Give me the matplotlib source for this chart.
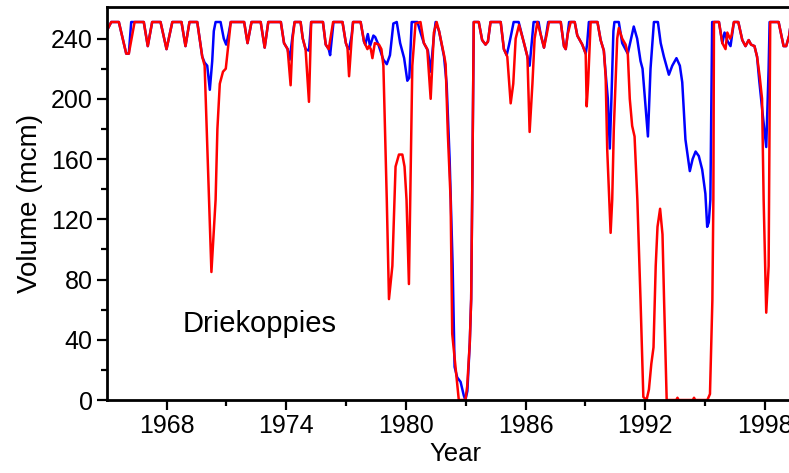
import matplotlib
matplotlib.use("Agg")
import matplotlib.pyplot as plt

plt.rcParams['font.family'] = ['Liberation Sans', 'DejaVu Sans']

# Driekoppies dam volume (mcm)
red_year = [1965.00, 1965.23, 1965.61, 1965.98, 1966.11, 1966.40, 1966.86, 1967.06, 1967.28, 1967.70,
            1968.00, 1968.29, 1968.75, 1968.95, 1969.15, 1969.54, 1969.79, 1969.91, 1970.25, 1970.46,
            1970.55, 1970.67, 1970.83, 1970.97, 1971.09, 1971.22, 1971.89, 1972.06, 1972.26, 1972.72,
            1972.92, 1973.10, 1973.73, 1973.89, 1974.07, 1974.22, 1974.32, 1974.42, 1974.72, 1974.83,
            1974.97, 1975.14, 1975.25, 1975.84, 1975.98, 1976.13, 1976.35, 1976.82, 1976.99, 1977.07,
            1977.15, 1977.28, 1977.35, 1977.73, 1977.90, 1978.07, 1978.15, 1978.24, 1978.32, 1978.44,
            1978.65, 1978.77, 1978.87, 1979.04, 1979.15, 1979.32, 1979.48, 1979.65, 1979.82, 1979.93,
            1980.03, 1980.15, 1980.32, 1980.48, 1980.73, 1980.90, 1981.07, 1981.24, 1981.40, 1981.54,
            1981.66, 1981.91, 1981.99, 1982.10, 1982.24, 1982.32, 1982.57, 1982.65, 1982.98, 1983.07,
            1983.20, 1983.27, 1983.32, 1983.40, 1983.65, 1983.82, 1983.99, 1984.11, 1984.24, 1984.75,
            1984.91, 1985.08, 1985.25, 1985.38, 1985.50, 1985.67, 1985.92, 1986.09, 1986.20, 1986.34,
            1986.45, 1986.59, 1986.75, 1986.92, 1987.06, 1987.17, 1987.76, 1987.92, 1988.01, 1988.11,
            1988.26, 1988.46, 1988.59, 1988.84, 1989.01, 1989.06, 1989.13, 1989.26, 1989.60, 1989.76,
            1989.92, 1990.01, 1990.09, 1990.26, 1990.34, 1990.42, 1990.59, 1990.67, 1990.84, 1991.01,
            1991.12, 1991.22, 1991.34, 1991.46, 1991.60, 1991.76, 1991.90, 1992.06, 1992.18, 1992.30,
            1992.41, 1992.52, 1992.61, 1992.74, 1992.86, 1992.94, 1993.07, 1993.55, 1993.61, 1993.67,
            1994.38, 1994.44, 1994.50, 1995.11, 1995.24, 1995.36, 1995.41, 1995.44, 1995.69, 1995.86,
            1996.02, 1996.11, 1996.24, 1996.32, 1996.44, 1996.66, 1996.86, 1997.02, 1997.18, 1997.30,
            1997.47, 1997.60, 1997.73, 1997.85, 1997.93, 1998.06, 1998.18, 1998.26, 1998.68, 1998.93,
            1999.06, 1999.21, 1999.30]
red_vol = [245, 251, 251, 230, 230, 251, 251, 235, 251, 251,
           233, 251, 251, 235, 251, 251, 228, 222, 85, 133,
           180, 210, 218, 220, 235, 251, 251, 237, 251, 251,
           234, 251, 251, 237, 233, 209, 240, 251, 251, 240,
           233, 198, 251, 251, 236, 233, 251, 251, 237, 234,
           215, 240, 251, 251, 238, 233, 235, 233, 227, 237,
           236, 233, 222, 133, 67, 89, 155, 163, 163, 155,
           133, 77, 222, 250, 251, 237, 233, 200, 244, 251,
           245, 229, 223, 177, 133, 44, 11, 0, 0, 9,
           38, 67, 133, 251, 251, 239, 236, 238, 251, 251,
           233, 228, 197, 210, 240, 249, 237, 228, 178, 210,
           240, 251, 243, 234, 243, 251, 251, 235, 233, 243,
           251, 251, 242, 236, 230, 195, 210, 251, 251, 239,
           232, 215, 166, 111, 133, 180, 240, 247, 240, 236,
           230, 200, 182, 175, 133, 66, 2, 0, 7, 24,
           35, 89, 115, 127, 110, 66, 0, 0, 1.5, 0,
           0, 1.5, 0, 0, 4, 66, 133, 251, 251, 237,
           233, 244, 240, 242, 251, 251, 239, 235, 239, 236,
           235, 228, 215, 200, 133, 58, 89, 251, 251, 235,
           235, 242, 251]

blue_year = [1965.00, 1965.23, 1965.61, 1965.98, 1966.11, 1966.23, 1966.86, 1967.06, 1967.28, 1967.70,
             1968.00, 1968.29, 1968.75, 1968.95, 1969.15, 1969.54, 1969.79, 1969.91, 1970.04, 1970.17,
             1970.29, 1970.37, 1970.46, 1970.71, 1970.87, 1970.99, 1971.11, 1971.22, 1971.89, 1972.06,
             1972.26, 1972.72, 1972.92, 1973.10, 1973.73, 1973.89, 1974.07, 1974.17, 1974.32, 1974.42,
             1974.72, 1974.83, 1974.97, 1975.14, 1975.25, 1975.84, 1975.98, 1976.13, 1976.20, 1976.37,
             1976.82, 1976.99, 1977.07, 1977.15, 1977.28, 1977.35, 1977.73, 1977.90, 1977.96, 1978.09,
             1978.20, 1978.37, 1978.46, 1978.62, 1978.79, 1978.87, 1979.04, 1979.20, 1979.37, 1979.54,
             1979.71, 1979.91, 1980.07, 1980.17, 1980.29, 1980.58, 1980.71, 1980.90, 1981.10, 1981.24,
             1981.39, 1981.49, 1981.66, 1981.91, 1982.04, 1982.19, 1982.34, 1982.44, 1982.57, 1982.74,
             1982.90, 1982.98, 1983.08, 1983.20, 1983.27, 1983.32, 1983.40, 1983.65, 1983.82, 1983.99,
             1984.11, 1984.24, 1984.75, 1984.91, 1985.05, 1985.17, 1985.28, 1985.40, 1985.65, 1985.92,
             1986.09, 1986.20, 1986.40, 1986.65, 1986.75, 1986.92, 1987.06, 1987.13, 1987.76, 1987.92,
             1988.01, 1988.18, 1988.46, 1988.59, 1988.84, 1989.01, 1989.08, 1989.17, 1989.60, 1989.76,
             1989.92, 1990.01, 1990.12, 1990.22, 1990.30, 1990.40, 1990.45, 1990.67, 1990.84, 1991.12,
             1991.42, 1991.59, 1991.76, 1991.86, 1992.13, 1992.26, 1992.43, 1992.63, 1992.77, 1992.93,
             1993.18, 1993.35, 1993.56, 1993.73, 1993.85, 1994.01, 1994.23, 1994.37, 1994.52, 1994.68,
             1994.85, 1995.01, 1995.10, 1995.18, 1995.26, 1995.35, 1995.69, 1995.86, 1995.97, 1996.13,
             1996.27, 1996.44, 1996.66, 1996.86, 1997.02, 1997.18, 1997.30, 1997.47, 1997.60, 1997.71,
             1997.88, 1998.06, 1998.18, 1998.23, 1998.68, 1998.93, 1999.06, 1999.21, 1999.30]
blue_vol = [245, 251, 251, 230, 230, 251, 251, 235, 251, 251,
            233, 251, 251, 235, 251, 251, 228, 224, 222, 206,
            225, 245, 251, 251, 240, 236, 243, 251, 251, 237,
            251, 251, 234, 251, 251, 237, 233, 226, 242, 251,
            251, 240, 233, 232, 251, 251, 236, 233, 229, 251,
            251, 237, 234, 233, 242, 251, 251, 238, 236, 243,
            235, 242, 241, 236, 229, 226, 223, 229, 250, 251,
            237, 227, 212, 214, 251, 251, 245, 237, 232, 218,
            240, 251, 245, 228, 210, 160, 90, 22, 15, 12,
            3, 0, 6, 38, 67, 133, 251, 251, 239, 236,
            238, 251, 251, 233, 229, 236, 243, 251, 251, 237,
            228, 222, 251, 251, 243, 234, 245, 251, 251, 235,
            233, 251, 251, 242, 236, 230, 236, 251, 251, 239,
            232, 217, 200, 167, 200, 245, 251, 251, 237, 230,
            248, 240, 225, 220, 175, 220, 251, 251, 237, 228,
            216, 222, 227, 222, 211, 173, 152, 160, 165, 162,
            153, 137, 115, 118, 133, 251, 251, 237, 244, 238,
            235, 251, 251, 239, 235, 239, 236, 235, 228, 212,
            190, 168, 220, 251, 251, 235, 235, 242, 251]

x_ticks = [1968, 1974, 1980, 1986, 1992, 1998]
x_minor = [1971, 1977, 1983, 1989, 1995]
y_ticks = [0, 40, 80, 120, 160, 200, 240]
y_minor = [20, 60, 100, 140, 180, 220]

fig = plt.figure(figsize=(7.89, 4.73), dpi=100)
# axes runs a little past the right edge of the picture, as in the reference
ax = fig.add_axes([0.1352, 0.1543, 0.885, 0.831])

ax.plot(blue_year, blue_vol, color='#0000ff', lw=1.8, solid_joinstyle='round')
ax.plot(red_year, red_vol, color='#ff0000', lw=1.8, solid_joinstyle='round')

ax.set_xlim(1965, 2000)
ax.set_ylim(0, 261)
ax.set_xticks(x_ticks)
ax.set_xticks(x_minor, minor=True)
ax.set_yticks(y_ticks)
ax.set_yticks(y_minor, minor=True)

for s in ax.spines.values():
    s.set_linewidth(2.0)
ax.spines['right'].set_visible(False)
ax.tick_params(which='major', length=7, width=1.6, labelsize=18, pad=3)
ax.tick_params(which='minor', length=4, width=1.6)

ax.set_xlabel('Year', fontsize=18.5, labelpad=3)
ax.set_ylabel('Volume (mcm)', fontsize=20, labelpad=6)
ax.text(1968.8, 45, 'Driekoppies', fontsize=21, va='baseline')

fig.savefig('out.png', dpi=100)
